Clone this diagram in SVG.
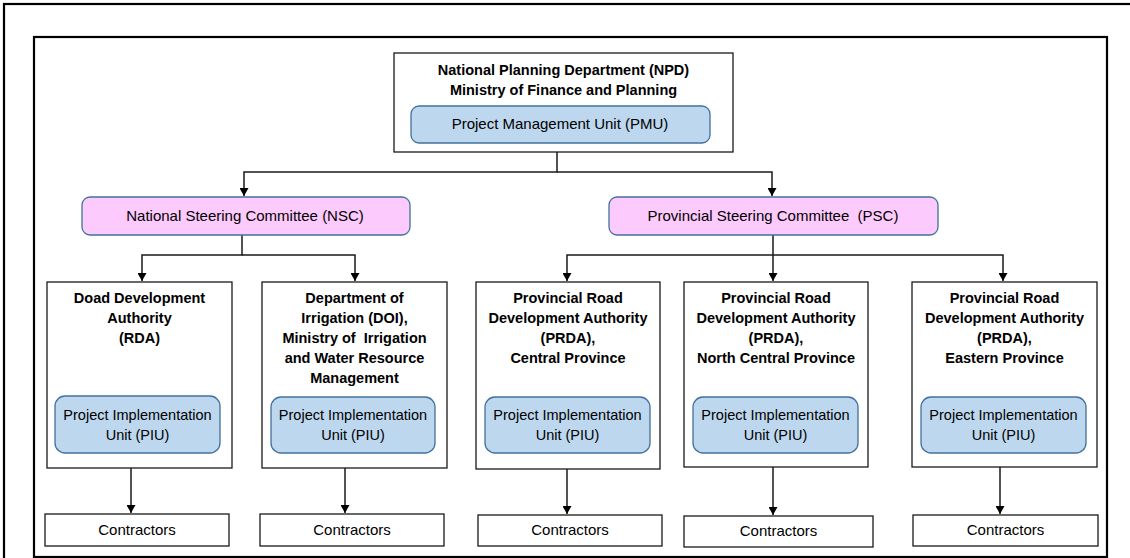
<svg xmlns="http://www.w3.org/2000/svg" width="1130" height="558" viewBox="0 0 1130 558">
<style>
.frame{fill:none;stroke:#000;stroke-width:2.2}
.box{fill:#fff;stroke:#1a1a1a;stroke-width:1.3}
.pink{fill:#fdcafd;stroke:#41719c;stroke-width:1.3}
.blue{fill:#bdd7ee;stroke:#41719c;stroke-width:1.3}
.conn{fill:none;stroke:#1a1a1a;stroke-width:1.5}
text{font-family:"Liberation Sans",Arial,sans-serif;fill:#000;text-anchor:middle}
.b{font-weight:bold;font-size:14.5px}
.r{font-size:14.5px}
.c{font-size:15px}
</style>
<defs>
<marker id="arr" markerUnits="userSpaceOnUse" markerWidth="9" markerHeight="9" refX="8" refY="4.5" orient="auto">
<path d="M0,0 L8,4.5 L0,9 z" fill="#000"/>
</marker>
</defs>
<rect class="frame" x="4" y="4" width="1140" height="570"/>
<rect class="frame" x="34" y="37" width="1073" height="520"/>

<g id="connectors">
<path class="conn" d="M557,152 V172 H244 V196" marker-end="url(#arr)"/>
<path class="conn" d="M557,172 H772 V196" marker-end="url(#arr)"/>
<path class="conn" d="M242,235 V255 H142 V281" marker-end="url(#arr)"/>
<path class="conn" d="M242,255 H355 V281" marker-end="url(#arr)"/>
<path class="conn" d="M773,235 V281" marker-end="url(#arr)"/>
<path class="conn" d="M773,255 H567 V281" marker-end="url(#arr)"/>
<path class="conn" d="M773,255 H1003 V281" marker-end="url(#arr)"/>
<path class="conn" d="M131,468 V513" marker-end="url(#arr)"/>
<path class="conn" d="M345,468 V513" marker-end="url(#arr)"/>
<path class="conn" d="M567,469 V514" marker-end="url(#arr)"/>
<path class="conn" d="M773,467 V515" marker-end="url(#arr)"/>
<path class="conn" d="M1000,467 V514" marker-end="url(#arr)"/>
</g>

<g id="npd">
<rect class="box" x="394" y="53" width="339" height="99"/>
<text class="b" x="563.5" y="75">National Planning Department (NPD)</text>
<text class="b" x="563.5" y="95">Ministry of Finance and Planning</text>
<rect class="blue" x="411" y="106" width="299" height="37" rx="8"/>
<text class="r" x="560" y="129" style="font-size:15px">Project Management Unit (PMU)</text>
</g>

<g id="nsc">
<rect class="pink" x="82" y="197" width="328" height="38" rx="8"/>
<text class="c" x="245" y="221">National Steering Committee (NSC)</text>
</g>

<g id="psc">
<rect class="pink" x="609" y="197" width="329" height="38" rx="8"/>
<text class="c" x="773" y="221" xml:space="preserve">Provincial Steering Committee  (PSC)</text>
</g>

<g id="rda">
<rect class="box" x="47" y="282" width="185" height="186"/>
<text class="b" x="139.5" y="303">Doad Development</text>
<text class="b" x="139.5" y="323">Authority</text>
<text class="b" x="139.5" y="343">(RDA)</text>
<rect class="blue" x="55" y="396" width="165" height="57" rx="10"/>
<text class="r" x="137.5" y="420">Project Implementation</text>
<text class="r" x="137.5" y="440">Unit (PIU)</text>
</g>

<g id="doi">
<rect class="box" x="262" y="282" width="185" height="186"/>
<text class="b" x="354.5" y="303">Department of</text>
<text class="b" x="354.5" y="323">Irrigation (DOI),</text>
<text class="b" x="354.5" y="343" xml:space="preserve">Ministry of  Irrigation</text>
<text class="b" x="354.5" y="363">and Water Resource</text>
<text class="b" x="354.5" y="383">Management</text>
<rect class="blue" x="271" y="397" width="164" height="56" rx="10"/>
<text class="r" x="353" y="420">Project Implementation</text>
<text class="r" x="353" y="440">Unit (PIU)</text>
</g>

<g id="prda-central">
<rect class="box" x="476" y="282" width="184" height="187"/>
<text class="b" x="568" y="303">Provincial Road</text>
<text class="b" x="568" y="323">Development Authority</text>
<text class="b" x="568" y="343">(PRDA),</text>
<text class="b" x="568" y="363">Central Province</text>
<rect class="blue" x="485" y="397" width="165" height="56" rx="10"/>
<text class="r" x="567.5" y="420">Project Implementation</text>
<text class="r" x="567.5" y="440">Unit (PIU)</text>
</g>

<g id="prda-northcentral">
<rect class="box" x="684" y="282" width="184" height="185"/>
<text class="b" x="776" y="303">Provincial Road</text>
<text class="b" x="776" y="323">Development Authority</text>
<text class="b" x="776" y="343">(PRDA),</text>
<text class="b" x="776" y="363">North Central Province</text>
<rect class="blue" x="693" y="397" width="165" height="56" rx="10"/>
<text class="r" x="775.5" y="420">Project Implementation</text>
<text class="r" x="775.5" y="440">Unit (PIU)</text>
</g>

<g id="prda-eastern">
<rect class="box" x="912" y="282" width="185" height="185"/>
<text class="b" x="1004.5" y="303">Provincial Road</text>
<text class="b" x="1004.5" y="323">Development Authority</text>
<text class="b" x="1004.5" y="343">(PRDA),</text>
<text class="b" x="1004.5" y="363">Eastern Province</text>
<rect class="blue" x="921" y="397" width="165" height="56" rx="10"/>
<text class="r" x="1003.5" y="420">Project Implementation</text>
<text class="r" x="1003.5" y="440">Unit (PIU)</text>
</g>

<g id="contractors-1">
<rect class="box" x="45" y="514" width="184" height="32"/>
<text class="c" x="137" y="535">Contractors</text>
</g>
<g id="contractors-2">
<rect class="box" x="260" y="514" width="184" height="32"/>
<text class="c" x="352" y="535">Contractors</text>
</g>
<g id="contractors-3">
<rect class="box" x="478" y="515" width="184" height="31"/>
<text class="c" x="570" y="535">Contractors</text>
</g>
<g id="contractors-4">
<rect class="box" x="684" y="516" width="189" height="31"/>
<text class="c" x="778.5" y="536">Contractors</text>
</g>
<g id="contractors-5">
<rect class="box" x="913" y="515" width="185" height="31"/>
<text class="c" x="1005.5" y="535">Contractors</text>
</g>
</svg>
